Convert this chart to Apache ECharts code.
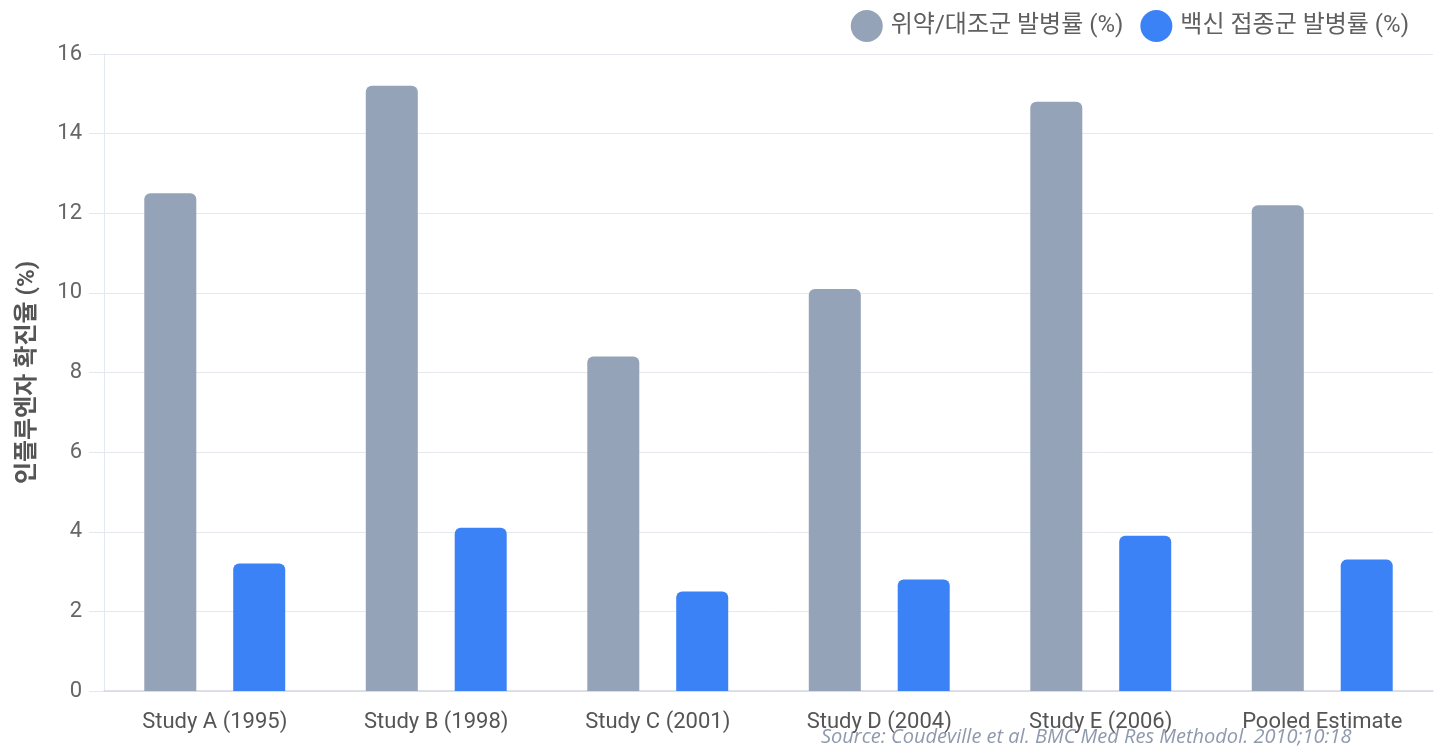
<!DOCTYPE html>
<html>
<head>
<meta charset="utf-8">
<script src="https://cdn.jsdelivr.net/npm/echarts@6/dist/echarts.min.js"></script>
<style>
  html, body { margin: 0; padding: 0; background: #ffffff; }
  #chart { width: 1435px; height: 749px; }
</style>
</head>
<body>
<div id="chart"></div>
<script>
// Influenza attack rate by study: placebo/control vs vaccinated groups
const categories = ['Study A (1995)', 'Study B (1998)', 'Study C (2001)', 'Study D (2004)', 'Study E (2006)', 'Pooled Estimate'];
const placeboRates = [12.5, 15.2, 8.4, 10.1, 14.8, 12.2];
const vaccineRates = [3.2, 4.1, 2.5, 2.8, 3.9, 3.3];
const seriesNames = ['위약/대조군 발병률 (%)', '백신 접종군 발병률 (%)'];
const yTicks = { min: 0, max: 16, interval: 2 };
const yAxisTitle = '인플루엔자 확진율 (%)';
const sourceNote = 'Source: Coudeville et al. BMC Med Res Methodol. 2010;10:18';

const baseFont = 'Roboto, "Noto Sans CJK KR", sans-serif';
const chart = echarts.init(document.getElementById('chart'), null, { renderer: 'canvas' });

chart.setOption({
  animation: false,
  backgroundColor: '#ffffff',
  textStyle: { fontFamily: baseFont },
  legend: {
    top: 5,
    right: 21,
    icon: 'circle',
    itemWidth: 32,
    itemHeight: 32,
    itemGap: 17,
    textStyle: { fontSize: 24, color: '#5f5f5f', fontFamily: baseFont, padding: [0, 0, 0, 3] },
    data: seriesNames
  },
  grid: { left: 104, right: 2, top: 54, bottom: 58, containLabel: false },
  xAxis: {
    type: 'category',
    data: categories,
    axisLine: { lineStyle: { color: '#d4d8e0', width: 1.5 } },
    axisTick: { show: false },
    axisLabel: { fontSize: 22, color: '#555555', margin: 20, fontFamily: baseFont }
  },
  yAxis: {
    type: 'value',
    min: yTicks.min,
    max: yTicks.max,
    interval: yTicks.interval,
    name: yAxisTitle,
    nameLocation: 'middle',
    nameGap: 64,
    nameTextStyle: { fontSize: 24, fontWeight: 'bold', color: '#555555', fontFamily: baseFont },
    axisLine: { show: true, lineStyle: { color: '#e3e7ee', width: 1 } },
    axisTick: { show: true, length: 15, lineStyle: { color: '#e3e7ee' } },
    axisLabel: { fontSize: 22, color: '#666666', margin: 22, fontFamily: baseFont },
    splitLine: { lineStyle: { color: '#e5e8ef', width: 1 } }
  },
  series: [
    {
      name: seriesNames[0],
      type: 'bar',
      data: placeboRates,
      barWidth: 52,
      barGap: '71%',
      itemStyle: { color: '#94a3b8', borderRadius: [6, 6, 0, 0] }
    },
    {
      name: seriesNames[1],
      type: 'bar',
      data: vaccineRates,
      barWidth: 52,
      barGap: '71%',
      itemStyle: { color: '#3b82f6', borderRadius: [6, 6, 0, 0] }
    }
  ],
  graphic: [
    {
      type: 'text',
      left: 821,
      top: 727,
      style: {
        text: sourceNote,
        fontSize: 20,
        fontStyle: 'italic',
        fontFamily: '"Open Sans", sans-serif',
        fill: '#8f99ad'
      }
    }
  ]
});
</script>
</body>
</html>
